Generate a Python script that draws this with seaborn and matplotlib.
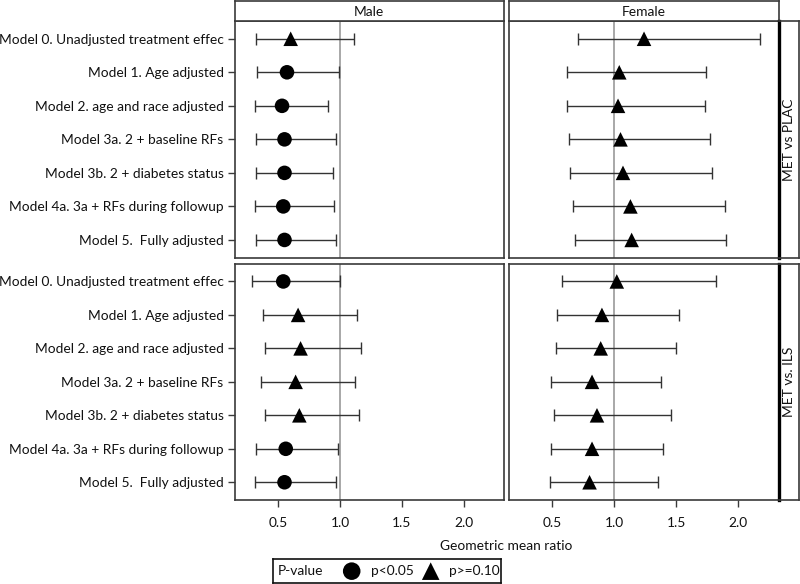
import matplotlib
matplotlib.use("Agg")
import matplotlib.pyplot as plt
import pandas as pd
import numpy as np
import seaborn as sns

sns.set_style("white")
plt.rcParams['font.family'] = ['Lato', 'DejaVu Sans']

MODELS = ["Model 0. Unadjusted treatment effec",
          "Model 1. Age adjusted",
          "Model 2. age and race adjusted",
          "Model 3a. 2 + baseline RFs",
          "Model 3b. 2 + diabetes status",
          "Model 4a. 3a + RFs during followup",
          "Model 5.  Fully adjusted"]
SEXES = ["Male", "Female"]
COMPARISONS = ["MET vs PLAC", "MET vs. ILS"]
SIG = "p<0.05"
NS = "p>=0.10"

# MET vs PLAC
male_plac_gmr = [0.60, 0.57, 0.53, 0.55, 0.55, 0.54, 0.55]
male_plac_lo = [0.32, 0.33, 0.31, 0.32, 0.32, 0.31, 0.32]
male_plac_hi = [1.11, 0.99, 0.90, 0.97, 0.94, 0.95, 0.97]
male_plac_p = [NS, SIG, SIG, SIG, SIG, SIG, SIG]
female_plac_gmr = [1.24, 1.04, 1.03, 1.05, 1.07, 1.13, 1.14]
female_plac_lo = [0.71, 0.62, 0.62, 0.63, 0.64, 0.67, 0.68]
female_plac_hi = [2.18, 1.74, 1.73, 1.77, 1.79, 1.89, 1.90]
female_plac_p = [NS] * 7

# MET vs ILS
male_ils_gmr = [0.54, 0.66, 0.68, 0.64, 0.67, 0.56, 0.55]
male_ils_lo = [0.29, 0.38, 0.39, 0.36, 0.39, 0.32, 0.31]
male_ils_hi = [1.00, 1.14, 1.17, 1.12, 1.15, 0.98, 0.97]
male_ils_p = [SIG, NS, NS, NS, NS, SIG, SIG]
female_ils_gmr = [1.02, 0.90, 0.89, 0.82, 0.86, 0.82, 0.80]
female_ils_lo = [0.58, 0.54, 0.53, 0.49, 0.51, 0.49, 0.48]
female_ils_hi = [1.82, 1.52, 1.50, 1.38, 1.46, 1.39, 1.35]
female_ils_p = [NS] * 7

XTICKS = [0.5, 1.0, 1.5, 2.0]

series = {
    ("MET vs PLAC", "Male"): (male_plac_gmr, male_plac_lo, male_plac_hi, male_plac_p),
    ("MET vs PLAC", "Female"): (female_plac_gmr, female_plac_lo, female_plac_hi, female_plac_p),
    ("MET vs. ILS", "Male"): (male_ils_gmr, male_ils_lo, male_ils_hi, male_ils_p),
    ("MET vs. ILS", "Female"): (female_ils_gmr, female_ils_lo, female_ils_hi, female_ils_p),
}

rows = []
for (comp, sex), (g, lo, hi, p) in series.items():
    for i, m in enumerate(MODELS):
        rows.append(dict(comparison=comp, sex=sex, model=m, row=i,
                         gmr=g[i], lo=lo[i], hi=hi[i], pvalue=p[i]))
df = pd.DataFrame(rows)

W, H = 800, 584
fig = plt.figure(figsize=(W / 100, H / 100), dpi=100)

def rect(x0, y0, x1, y1):
    return [x0 / W, 1 - y1 / H, (x1 - x0) / W, (y1 - y0) / H]

FRAME = "#3a3a3a"
TXT = "#111111"
FS = 9.9
col_x = [(234.7, 504.0), (508.7, 778.5)]
row_y = [(21.0, 257.7), (263.7, 500.0)]

for r, comp in enumerate(COMPARISONS):
    for c, sex in enumerate(SEXES):
        ax = fig.add_axes(rect(col_x[c][0], row_y[r][0], col_x[c][1], row_y[r][1]))
        sub = df[(df.comparison == comp) & (df.sex == sex)]
        ax.axvline(1.0, color="#9a9a9a", lw=1.2, zorder=1)
        ax.errorbar(sub.gmr, sub.row, xerr=[sub.gmr - sub.lo, sub.hi - sub.gmr],
                    fmt="none", ecolor="#333333", elinewidth=1.0,
                    capsize=4.5, capthick=1.0, zorder=2)
        sns.scatterplot(data=sub, x="gmr", y="row", style="pvalue",
                        markers={SIG: "o", NS: "^"}, style_order=[SIG, NS],
                        color="black", s=110, edgecolor="none", linewidth=0,
                        legend=False, ax=ax, zorder=3)
        ax.set_xlim(0.147, 2.326)
        ax.set_ylim(6.53, -0.53)
        ax.set_xlabel("")
        ax.set_ylabel("")
        ax.set_xticks(XTICKS)
        ax.set_yticks(range(len(MODELS)))
        for s in ax.spines.values():
            s.set_color(FRAME)
            s.set_linewidth(1.2)
        if c == 0:
            ax.set_yticklabels(MODELS, fontsize=FS, color=TXT)
            ax.tick_params(axis="y", left=True, length=5, width=1, color=FRAME, pad=3)
        else:
            ax.set_yticklabels([])
            ax.tick_params(axis="y", left=False)
        if r == 1:
            ax.set_xticklabels([f"{t:.1f}" for t in XTICKS], fontsize=FS, color=TXT)
            ax.tick_params(axis="x", bottom=True, length=5, width=1, color=FRAME, pad=7.5)
        else:
            ax.set_xticklabels([])
            ax.tick_params(axis="x", bottom=False)

# column strips
for c, sex in enumerate(SEXES):
    sax = fig.add_axes(rect(col_x[c][0], 0.5, col_x[c][1], 21.0))
    sax.set_xticks([]); sax.set_yticks([])
    for s in sax.spines.values():
        s.set_color(FRAME); s.set_linewidth(1.2)
    sax.text(0.5, 0.45, sex, ha="center", va="center", fontsize=FS, color=TXT,
             transform=sax.transAxes)

# row strips
for r, comp in enumerate(COMPARISONS):
    sax = fig.add_axes(rect(778.5, row_y[r][0], 799.3, row_y[r][1]))
    sax.set_xticks([]); sax.set_yticks([])
    for s in sax.spines.values():
        s.set_color(FRAME); s.set_linewidth(1.2)
    sax.spines["left"].set_color("black")
    sax.spines["left"].set_linewidth(2.4)
    sax.text(0.5, 0.5, comp, ha="center", va="center", rotation=90, fontsize=FS,
             color=TXT, transform=sax.transAxes)

fig.text(506.6 / W, 1 - 546 / H, "Geometric mean ratio", ha="center", va="center",
         fontsize=FS, color=TXT)

# legend box
lax = fig.add_axes(rect(272.7, 559.0, 500.7, 583.3))
lax.set_xlim(0, 228); lax.set_ylim(0, 24)
lax.set_xticks([]); lax.set_yticks([])
for s in lax.spines.values():
    s.set_color("#111111"); s.set_linewidth(1.2)
lax.text(5, 12, "P-value", ha="left", va="center", fontsize=FS, color=TXT)
lax.scatter([79], [12], marker="o", s=160, color="black", edgecolor="none")
lax.text(98, 12, "p<0.05", ha="left", va="center", fontsize=FS, color=TXT)
lax.scatter([158], [12], marker="^", s=160, color="black", edgecolor="none")
lax.text(176.5, 12, "p>=0.10", ha="left", va="center", fontsize=FS, color=TXT)

fig.savefig("out.png", dpi=100)
